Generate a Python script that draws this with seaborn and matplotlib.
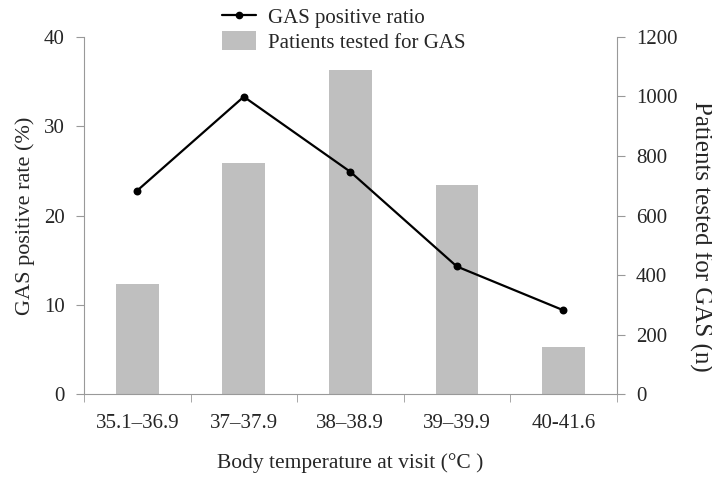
import matplotlib
matplotlib.use('Agg')
import matplotlib.pyplot as plt
import seaborn as sns
import pandas as pd
from matplotlib.lines import Line2D
from matplotlib.patches import Patch

# values
temp_bins = ['35.1–36.9', '37–37.9', '38–38.9', '39–39.9', '40-41.6']
positive_rate = [22.8, 33.3, 24.9, 14.3, 9.4]      # %
patients_tested = [370, 775, 1090, 702, 158]        # n

BAR_GREY = '#bfbfbf'
AXIS_GREY = '#999999'

sns.set_style('ticks')
plt.rcParams['font.family'] = ['Liberation Serif', 'DejaVu Serif']

df = pd.DataFrame({
    'temp': temp_bins,
    'rate': positive_rate,
    'patients': patients_tested,
})

fig = plt.figure(figsize=(7.12, 4.79), dpi=100)
ax = fig.add_axes([0.118, 0.177, 0.748, 0.746])
ax2 = ax.twinx()

# bars on the right-hand scale, line on the left-hand scale
sns.barplot(data=df, x='temp', y='patients', color=BAR_GREY, saturation=1,
            width=0.4, linewidth=0, ax=ax2)
sns.pointplot(data=df, x='temp', y='rate', color='black', markers='o',
              markersize=4.5, linewidth=1.6, errorbar=None, ax=ax)

# keep the line above the bars
ax.set_zorder(ax2.get_zorder() + 1)
ax.patch.set_visible(False)

for a in (ax, ax2):
    a.set_xlim(-0.5, 4.5)
ax.set_ylim(0, 40)
ax2.set_ylim(0, 1200)
ax.set_yticks(range(0, 41, 10))
ax2.set_yticks(range(0, 1201, 200))

ax.spines['top'].set_visible(False)
ax.spines['right'].set_visible(False)
ax2.spines['top'].set_visible(False)
ax2.spines['left'].set_visible(False)
ax2.spines['bottom'].set_visible(False)
for s in ('left', 'bottom'):
    ax.spines[s].set_color(AXIS_GREY)
ax2.spines['right'].set_color(AXIS_GREY)

ax.tick_params(axis='y', direction='out', length=6, color=AXIS_GREY,
               labelsize=15, pad=8)
ax2.tick_params(axis='y', direction='out', length=6, color=AXIS_GREY,
                labelsize=15, pad=8)

# category labels at centres, tick marks at the boundaries
ax.set_xticks(range(len(temp_bins)))
ax.set_xticklabels(temp_bins)
ax.set_xticks([i - 0.5 for i in range(len(temp_bins) + 1)], minor=True)
ax.tick_params(axis='x', which='major', length=0, labelsize=15, pad=14)
ax.tick_params(axis='x', which='minor', length=6, color=AXIS_GREY)

ax.set_xlabel('Body temperature at visit (°C )', fontsize=15.5, labelpad=15)
ax.set_ylabel('GAS positive rate (%)', fontsize=16, labelpad=6)
ax2.set_ylabel('Patients tested for GAS (n)', fontsize=18, rotation=270,
               va='center')
ax2.yaxis.set_label_coords(1.158, 0.443)

handles = [
    Line2D([0], [0], color='black', lw=1.6, marker='o', markersize=4.5),
    Patch(facecolor=BAR_GREY, edgecolor='none'),
]
labels = ['GAS positive ratio', 'Patients tested for GAS']
fig.legend(handles, labels, loc='upper center', bbox_to_anchor=(0.483, 1.025),
           frameon=False, fontsize=15, handlelength=1.6, handleheight=1.0,
           handletextpad=0.6, labelspacing=0.15)

fig.savefig('out.png', dpi=100)
plt.close(fig)
